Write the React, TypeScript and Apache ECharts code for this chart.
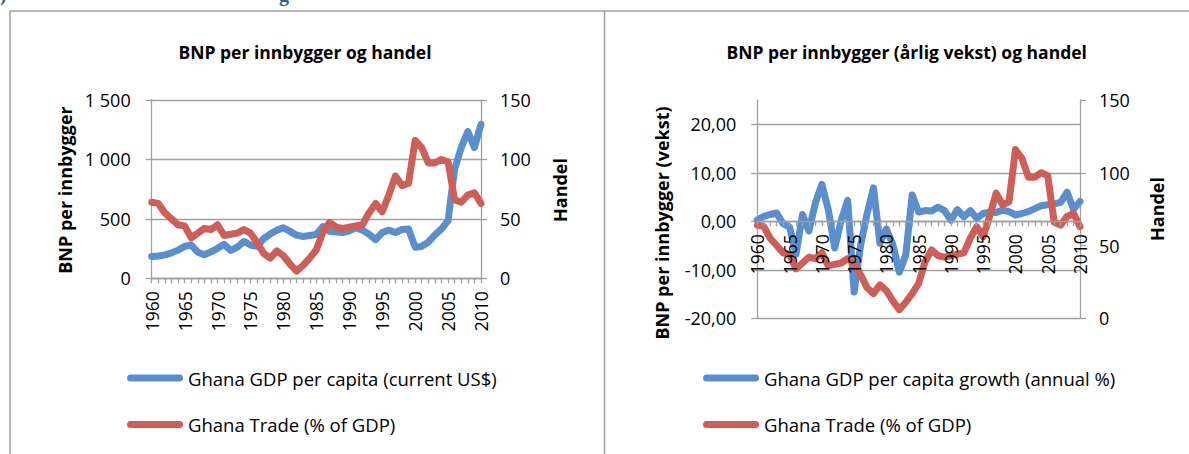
import React, { useEffect, useRef } from "react";
import * as echarts from "echarts";

const years = [
  "1960", "1961", "1962", "1963", "1964", "1965", "1966", "1967", "1968", "1969",
  "1970", "1971", "1972", "1973", "1974", "1975", "1976", "1977", "1978", "1979",
  "1980", "1981", "1982", "1983", "1984", "1985", "1986", "1987", "1988", "1989",
  "1990", "1991", "1992", "1993", "1994", "1995", "1996", "1997", "1998", "1999",
  "2000", "2001", "2002", "2003", "2004", "2005", "2006", "2007", "2008", "2009",
  "2010",
];

const gdpPerCapita = [
  183, 188, 197, 214, 237, 268, 280, 220, 198, 222,
  252, 286, 235, 262, 310, 280, 268, 335, 372, 405,
  425, 395, 363, 352, 360, 368, 435, 395, 390, 385,
  400, 425, 405, 370, 325, 385, 405, 385, 410, 415,
  262, 268, 305, 365, 415, 485, 920, 1100, 1235, 1100,
  1295,
];

const gdpGrowth = [
  0.3, 1.0, 1.4, 1.7, -0.5, -1.2, -6.8, 1.4, -2.0, 3.8,
  7.6, 2.4, -5.5, 0.2, 4.3, -14.6, -5.0, 1.5, 6.9, -4.5,
  -1.6, -4.8, -10.5, -7.0, 5.4, 1.9, 2.2, 2.1, 2.9, 2.2,
  0.2, 2.4, 0.9, 2.2, 0.6, 1.6, 1.9, 1.8, 2.3, 2.0,
  1.3, 1.6, 2.0, 2.6, 3.2, 3.4, 3.6, 3.9, 6.0, 2.5,
  4.1,
];

const tradePct = [
  64, 63, 55, 50, 45, 44, 34, 38, 42, 41,
  45, 36, 37, 38, 41, 38, 30, 21, 17, 23,
  19, 12, 6, 11, 17, 24, 39, 47, 43, 42,
  43, 44, 45, 55, 63, 56, 70, 86, 78, 80,
  116, 110, 97, 97, 100, 98, 66, 64, 70, 72,
  63,
];

const growthAxisMin = -20;
const growthAxisMax = 25;

const leftTitle = "BNP per innbygger og handel";
const rightTitle = "BNP per innbygger (årlig vekst) og handel";
const leftAxisName = "BNP per innbygger";
const rightLeftAxisName = "BNP per innbygger (vekst)";
const tradeAxisName = "Handel";
const nameGdp = "Ghana GDP per capita (current US$)";
const nameGrowth = "Ghana GDP per capita growth (annual %)";
const nameTrade = "Ghana Trade (% of GDP)";

const FONT = "'Open Sans', sans-serif";
const GRID_COLOR = "#a0a0a0";
const BLUE = "#5B8FCB";
const RED = "#CE5F58";
const TEXT = "#000000";
const PILL = "path://M3.5 0H52.5A3.5 3.5 0 0 1 52.5 7H3.5A3.5 3.5 0 0 1 3.5 0Z";

const RIGHT_GRID_HEIGHT = 218.3;

function thousands(v: number): string {
  const s = String(Math.round(v));
  return s.replace(/\B(?=(\d{3})+(?!\d))/g, " ");
}

function decimalComma(v: number): string {
  return v.toFixed(2).replace(".", ",");
}

export default function App() {
  const ref = useRef<HTMLDivElement>(null);

  useEffect(() => {
    if (!ref.current) return;
    const chart = echarts.init(ref.current, null, { renderer: "svg" });
    const axisLineStyle = { color: GRID_COLOR, width: 1.3 };

    const catAxis = (gridIndex: number, offset = 0, z = 0) => ({
      type: "category",
      gridIndex,
      data: years,
      boundaryGap: false,
      position: "bottom",
      offset,
      z,
      axisLine: { show: true, onZero: false, lineStyle: axisLineStyle },
      axisTick: { show: true, interval: 0, length: 5, lineStyle: axisLineStyle },
      axisLabel: {
        interval: 4,
        rotate: 90,
        margin: 13,
        color: TEXT,
        fontFamily: FONT,
        fontSize: 17.5,
      },
      splitLine: { show: false },
    });

    const valueAxis = (
      gridIndex: number,
      position: "left" | "right",
      min: number,
      max: number,
      interval: number,
      formatter: (v: number) => string,
      split: boolean,
      extraLabel: Record<string, unknown> = {},
      extraSplit: Record<string, unknown> = {}
    ) => ({
      type: "value",
      gridIndex,
      position,
      min,
      max,
      interval,
      axisLine: { show: true, onZero: false, lineStyle: axisLineStyle },
      axisTick: { show: true, length: 6, lineStyle: axisLineStyle },
      axisLabel: {
        formatter,
        margin: position === "left" ? 21 : 19,
        color: TEXT,
        fontFamily: FONT,
        fontSize: 18,
        padding: [5, 0, 0, 0],
        ...extraLabel,
      },
      splitLine: {
        show: split,
        lineStyle: { color: GRID_COLOR, width: 1.3 },
        ...extraSplit,
      },
    });

    const lineSeries = (
      name: string,
      xAxisIndex: number,
      yAxisIndex: number,
      data: number[],
      color: string
    ) => ({
      name,
      type: "line",
      xAxisIndex,
      yAxisIndex,
      data,
      showSymbol: false,
      symbol: "none",
      silent: true,
      color,
      itemStyle: { color },
      lineStyle: { width: 7, color, cap: "round", join: "round" },
      emphasis: { disabled: true },
    });

    const legendText = { color: TEXT, fontFamily: FONT, fontSize: 18.5, lineHeight: 24 };
    const line = (x1: number, y1: number, x2: number, y2: number) => ({
      type: "line",
      silent: true,
      shape: { x1, y1, x2, y2 },
      style: { stroke: GRID_COLOR, lineWidth: 1.5 },
    });
    const label = (
      text: string,
      x: number,
      y: number,
      rotated: boolean,
      font: string,
      fill = TEXT
    ) => ({
      type: "text",
      silent: true,
      x,
      y,
      rotation: rotated ? Math.PI / 2 : 0,
      style: {
        text,
        fill,
        font,
        textAlign: "center",
        textVerticalAlign: "middle",
        align: "center",
        verticalAlign: "middle",
      },
    });
    const titleFont = "bold 17.5px 'Open Sans', sans-serif";
    const nameFont = "bold 18px 'Open Sans', sans-serif";
    const headFont = "bold 20px 'Liberation Serif', serif";

    // place the right chart's category axis at value 0 of its growth axis
    const zeroOffset =
      -((0 - growthAxisMin) / (growthAxisMax - growthAxisMin)) * RIGHT_GRID_HEIGHT;

    chart.setOption({
      animation: false,
      backgroundColor: "#ffffff",
      grid: [
        { left: 151.7, top: 100, width: 329.3, height: 178.3, outerBoundsMode: "none" },
        { left: 757.3, top: 100, width: 322.7, height: RIGHT_GRID_HEIGHT, outerBoundsMode: "none" },
      ],
      xAxis: [catAxis(0), catAxis(1, zeroOffset, 5)],
      yAxis: [
        valueAxis(0, "left", 0, 1500, 500, thousands, true),
        valueAxis(0, "right", 0, 150, 50, (v) => String(v), false),
        valueAxis(
          1,
          "left",
          growthAxisMin,
          growthAxisMax,
          10,
          decimalComma,
          true,
          { showMaxLabel: false },
          { showMaxLine: false, showMinLine: true }
        ),
        valueAxis(1, "right", 0, 150, 50, (v) => String(v), false),
      ],
      legend: [
        {
          left: 122,
          top: 361,
          orient: "vertical",
          itemWidth: 56,
          itemHeight: 7,
          itemGap: 22.5,
          icon: PILL,
          selectedMode: false,
          data: [nameGdp, nameTrade],
          textStyle: legendText,
        },
        {
          left: 698,
          top: 361,
          orient: "vertical",
          itemWidth: 56,
          itemHeight: 7,
          itemGap: 22.5,
          icon: PILL,
          selectedMode: false,
          data: [nameGrowth, nameTrade],
          textStyle: legendText,
        },
      ],
      graphic: [
        line(9.5, 11, 1189, 11),
        line(10, 11, 10, 454),
        line(604.5, 11, 604.5, 454),
        {
          type: "text",
          silent: true,
          x: 0,
          y: -16,
          style: { text: ")", fill: "#365F91", font: headFont, textVerticalAlign: "top", verticalAlign: "top" },
        },
        {
          type: "text",
          silent: true,
          x: 279,
          y: -16,
          style: { text: "g", fill: "#365F91", font: headFont, textVerticalAlign: "top", verticalAlign: "top" },
        },
        label(leftTitle, 305, 52, false, titleFont),
        label(rightTitle, 906.7, 52, false, titleFont),
        label(leftAxisName, 65, 190, true, nameFont),
        label(tradeAxisName, 560, 190, true, nameFont),
        label(rightLeftAxisName, 661.7, 223, true, nameFont),
        label(tradeAxisName, 1157, 209, true, nameFont),
      ],
      series: [
        lineSeries(nameGdp, 0, 0, gdpPerCapita, BLUE),
        lineSeries(nameTrade, 0, 1, tradePct, RED),
        lineSeries(nameGrowth, 1, 2, gdpGrowth, BLUE),
        lineSeries(nameTrade, 1, 3, tradePct, RED),
      ],
    });

    return () => {
      chart.dispose();
    };
  }, []);

  return (
    <div
      ref={ref}
      style={{ position: "absolute", left: 0, top: 0, width: 1189, height: 454, background: "#ffffff" }}
    />
  );
}
